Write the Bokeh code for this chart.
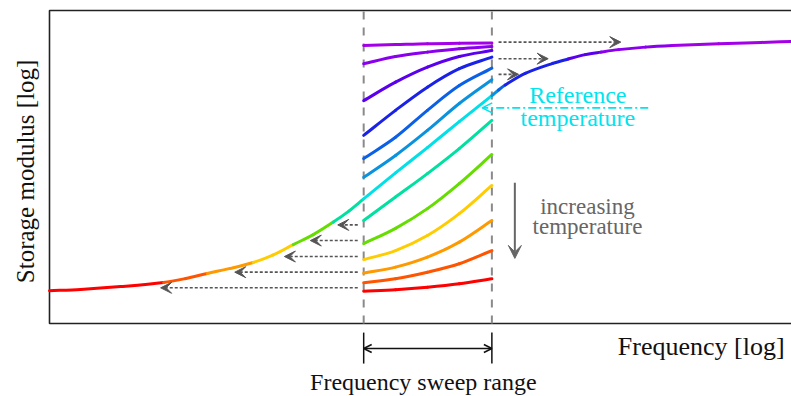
import math
from bokeh.plotting import figure
from bokeh.models import Range1d, Arrow, VeeHead, OpenHead, ColumnDataSource
from bokeh.core.properties import value
from bokeh.embed import file_html
from bokeh.resources import INLINE

# ---------------- data (chart units: log frequency 0..10, log modulus 0..10) -------------
sweep_lo, sweep_hi = 4.24, 5.97
sweep_x = [4.24, 4.67, 5.10, 5.53, 5.97]

# isothermal frequency sweeps, lowest temperature first
seg_y = [
    [8.88, 8.91, 8.94, 8.95, 8.96],
    [8.30, 8.53, 8.67, 8.78, 8.85],
    [7.12, 7.71, 8.19, 8.53, 8.72],
    [6.01, 6.81, 7.55, 8.14, 8.51],
    [5.27, 5.95, 6.81, 7.60, 8.16],
    [4.67, 5.37, 6.17, 7.03, 7.79],
    [3.98, 4.81, 5.62, 6.45, 7.28],   # reference temperature
    [3.29, 4.04, 4.79, 5.59, 6.49],
    [2.55, 3.04, 3.67, 4.47, 5.40],
    [2.04, 2.33, 2.81, 3.51, 4.41],
    [1.61, 1.80, 2.12, 2.60, 3.29],
    [1.30, 1.43, 1.64, 1.91, 2.33],
    [1.03, 1.08, 1.16, 1.27, 1.43],
]
REF = 6
seg_colors = ["#a400e8", "#8a00ee", "#5a00ee", "#1a22e8", "#0a60e6", "#0a92de",
              "#00e0e6", "#00e0a0", "#66dd00", "#ffcc00", "#ff9900", "#ff5500", "#ff0000"]

# master curve outside the sweep range
master_left_x = [0.0, 0.42, 0.96, 1.54, 1.84, 2.13, 2.44, 2.75, 3.02, 3.29, 3.56, 3.83, 4.04, 4.24]
master_left_y = [1.05, 1.09, 1.18, 1.31, 1.44, 1.60, 1.76, 1.95, 2.19, 2.52, 2.84, 3.24, 3.59, 3.98]
master_right_x = [5.97, 6.06, 6.15, 6.42, 6.79, 7.00, 7.23, 7.44, 7.68, 8.04, 8.41, 9.03, 9.60, 10.0]
master_right_y = [7.28, 7.46, 7.62, 7.99, 8.31, 8.45, 8.59, 8.67, 8.75, 8.83, 8.88, 8.94, 8.98, 9.01]
# colour zones of master curve: (from, to, index of segment colour)
master_zones = [(0.0, 1.54, 12), (1.54, 2.13, 11), (2.13, 2.75, 10), (2.75, 3.29, 9),
                (3.29, 3.83, 8), (3.83, 4.24, 7), (4.24, 5.97, 6),
                (5.97, 6.06, 5), (6.06, 6.15, 4), (6.15, 7.00, 3), (7.00, 7.44, 2),
                (7.44, 8.41, 1), (8.41, 10.0, 0)]

# shift arrows
left_arrow_y = [3.15, 2.65, 2.14, 1.64, 1.14]
left_arrow_x0 = 4.16
left_arrow_x1 = [3.89, 3.52, 3.17, 2.50, 1.50]
right_arrow_y = [8.99, 8.46, 7.96]
right_arrow_x0 = 6.06
right_arrow_x1 = [7.71, 6.73, 6.33]

ref_arrow = (8.08, 5.84, 6.89)        # x start, x end, y
ref_text = ["Reference", "temperature"]
ref_text_pos = (7.13, [7.29, 6.58])
temp_text = ["increasing", "temperature"]
temp_text_pos = (7.26, [3.74, 3.09])
temp_arrow = (6.28, 4.50, 2.08)       # x, y start, y end

# ---------------- figure ----------------------------------------------------------------
W, H = 791, 396
px_x = 74.1   # pixels per x unit
px_y = 31.3   # pixels per y unit
x0 = -49 / px_x
y1 = 323 / px_y
p = figure(width=W, height=H, output_backend="svg", toolbar_location=None,
           x_range=Range1d(x0, x0 + W / px_x), y_range=Range1d(y1 - H / px_y, y1),
           min_border=0, outline_line_color=None)
p.axis.visible = False
p.grid.visible = False
p.background_fill_color = "white"
p.border_fill_color = "white"

SERIF = value("Liberation Serif")

# frame (left, top, bottom)
p.line([10.2, 0, 0, 10.2], [10.0, 10.0, 0, 0], line_color="#222222", line_width=1.6)

# dashed sweep limits
for xv in (sweep_lo, sweep_hi):
    p.line([xv, xv], [0, 10.0], line_color="#8a8a8a", line_width=2, line_dash="8 8")


# smooth drawing of a curve through the read points (cubic Hermite pieces as Beziers)
def slopes(xs, ys):
    n = len(xs)
    m = []
    for i in range(n):
        a, b = max(i - 1, 0), min(i + 1, n - 1)
        m.append((ys[b] - ys[a]) / (xs[b] - xs[a]))
    return m


def bezier_pieces(xs, ys):
    m = slopes(xs, ys)
    out = []
    for i in range(len(xs) - 1):
        h = xs[i + 1] - xs[i]
        out.append((xs[i], ys[i], xs[i + 1], ys[i + 1],
                    xs[i] + h / 3, ys[i] + m[i] * h / 3,
                    xs[i + 1] - h / 3, ys[i + 1] - m[i + 1] * h / 3))
    return out


cols = {k: [] for k in ("x0", "y0", "x1", "y1", "cx0", "cy0", "cx1", "cy1", "color")}


def add(pieces, color_fn):
    for pc in pieces:
        for k, v in zip(("x0", "y0", "x1", "y1", "cx0", "cy0", "cx1", "cy1"), pc):
            cols[k].append(v)
        cols["color"].append(color_fn(0.5 * (pc[0] + pc[2])))


def zone_color(xm):
    for a, b, ci in master_zones:
        if a <= xm <= b:
            return seg_colors[ci]
    return seg_colors[0]


# master curve = low-frequency part + reference sweep + high-frequency part
full_x = master_left_x + sweep_x[1:-1] + master_right_x
full_y = master_left_y + seg_y[REF][1:-1] + master_right_y
add(bezier_pieces(full_x, full_y), zone_color)

for i, ys in enumerate(seg_y):
    if i == REF:
        continue
    add(bezier_pieces(sweep_x, ys), lambda xm, c=seg_colors[i]: c)

p.bezier(x0="x0", y0="y0", x1="x1", y1="y1", cx0="cx0", cy0="cy0", cx1="cx1", cy1="cy1",
         source=ColumnDataSource(cols), line_color="color", line_width=3, line_cap="round")

# shift arrows
left_src = ColumnDataSource(dict(x0=[left_arrow_x0] * len(left_arrow_y), x1=left_arrow_x1,
                                 y=left_arrow_y))
p.add_layout(Arrow(x_start="x0", y_start="y", x_end="x1", y_end="y", source=left_src,
                   line_color="#555555", line_width=1.6, line_dash="3 2",
                   end=VeeHead(size=11, fill_color="#555555", line_color="#555555")))
right_src = ColumnDataSource(dict(x0=[right_arrow_x0] * len(right_arrow_y), x1=right_arrow_x1,
                                  y=right_arrow_y))
p.add_layout(Arrow(x_start="x0", y_start="y", x_end="x1", y_end="y", source=right_src,
                   line_color="#555555", line_width=1.6, line_dash="3 2",
                   end=VeeHead(size=11, fill_color="#555555", line_color="#555555")))

# reference temperature
CYAN = "#00e4ee"
p.add_layout(Arrow(x_start=ref_arrow[0], y_start=ref_arrow[2], x_end=ref_arrow[1], y_end=ref_arrow[2],
                   line_color=CYAN, line_width=1.6, line_dash="8 3 2 3",
                   end=OpenHead(size=10, line_color=CYAN, line_width=1.6)))
p.text(x=[ref_text_pos[0]] * 2, y=ref_text_pos[1], text=ref_text, text_color=CYAN,
       text_font=SERIF, text_font_size=value("24px"), text_align="center",
       text_baseline="alphabetic")

# increasing temperature
GRAY = "#666666"
p.add_layout(Arrow(x_start=temp_arrow[0], y_start=temp_arrow[1], x_end=temp_arrow[0], y_end=temp_arrow[2],
                   line_color=GRAY, line_width=2,
                   end=VeeHead(size=13, fill_color=GRAY, line_color=GRAY)))
p.text(x=[temp_text_pos[0]] * 2, y=temp_text_pos[1], text=temp_text, text_color=GRAY,
       text_font=SERIF, text_font_size=value("23px"), text_align="center",
       text_baseline="alphabetic")

# sweep range bracket below the frame
for xv in (sweep_lo, sweep_hi):
    p.line([xv, xv], [-0.29, -1.28], line_color="#111111", line_width=1.5)
p.add_layout(Arrow(x_start=sweep_lo, y_start=-0.80, x_end=sweep_hi, y_end=-0.80,
                   line_color="#111111", line_width=1.5,
                   start=OpenHead(size=8, line_color="#111111", line_width=1.5),
                   end=OpenHead(size=8, line_color="#111111", line_width=1.5)))
p.text(x=[(sweep_lo + sweep_hi) / 2 - 0.06], y=[-1.86], text=["Frequency sweep range"],
       text_color="#111111", text_font=SERIF, text_font_size=value("24px"),
       text_align="center", text_baseline="alphabetic")

# axis titles
p.text(x=[9.92], y=[-0.74], text=["Frequency [log]"], text_color="#111111", text_font=SERIF,
       text_font_size=value("26px"), text_align="right", text_baseline="alphabetic")
p.text(x=[-0.33], y=[4.86], text=["Storage modulus [log]"], text_color="#111111",
       text_font=SERIF, text_font_size=value("25px"), text_align="center",
       text_baseline="alphabetic", angle=math.pi / 2)

open("out.html", "w").write(file_html(p, INLINE))
